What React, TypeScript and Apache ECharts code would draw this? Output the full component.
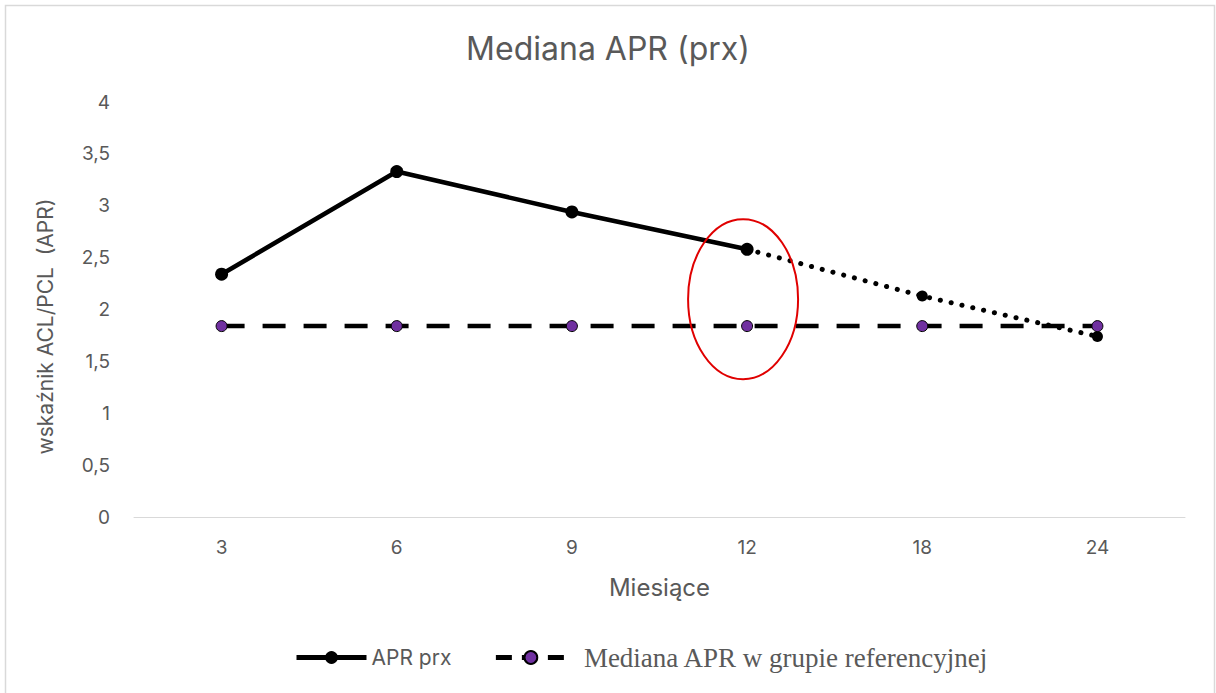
import React, { useEffect, useRef } from "react";
import * as echarts from "echarts";

const months = ["3", "6", "9", "12", "18", "24"];
const aprPrx = [2.34, 3.33, 2.94, 2.58, 2.13, 1.74];
const splitIndex = 3; // last measured point (12 months), afterwards dotted
const referenceMedian = [1.84, 1.84, 1.84, 1.84, 1.84, 1.84];
const yTicks = { min: 0, max: 4, interval: 0.5 };
const highlight = { category: "12", value: 2.1 };

const GRAY = "#595959";
const SANS = "Inter";

export default function App() {
  const ref = useRef<HTMLDivElement>(null);
  useEffect(() => {
    if (!ref.current) return;
    const chart = echarts.init(ref.current, null, { renderer: "svg" });
    const solid = aprPrx.map((v, i) => (i <= splitIndex ? v : null));
    const dotted = aprPrx.map((v, i) => (i >= splitIndex ? v : null));
    const legendData = [
      {
        name: "APR prx",
        textStyle: { color: GRAY, fontSize: 21, fontFamily: SANS },
        lineStyle: { width: 5, color: "#000000" },
      },
      {
        name: "Mediana APR w grupie referencyjnej",
        textStyle: { color: GRAY, fontSize: 27, fontFamily: "Liberation Serif", padding: [0, 0, 0, 13] },
        lineStyle: { width: 5, color: "#000000", type: [16, 10] },
      },
    ];
    chart.setOption({
      animation: false,
      backgroundColor: "#ffffff",
      title: {
        text: "Mediana APR (prx)",
        left: "center",
        top: 27,
        textStyle: { color: GRAY, fontSize: 32, fontWeight: "normal", fontFamily: SANS },
      },
      grid: { left: 134, right: 31, top: 102, bottom: 176, containLabel: false },
      xAxis: {
        type: "category",
        data: months,
        boundaryGap: true,
        name: "Miesiące",
        nameLocation: "middle",
        nameGap: 58,
        nameTextStyle: { color: GRAY, fontSize: 24, fontFamily: SANS },
        axisLine: { lineStyle: { color: "#d9d9d9", width: 1 } },
        axisTick: { show: false },
        axisLabel: { color: GRAY, fontSize: 19, margin: 21, fontFamily: SANS },
      },
      yAxis: {
        type: "value",
        min: yTicks.min,
        max: yTicks.max,
        interval: yTicks.interval,
        name: "wskaźnik ACL/PCL  (APR)",
        nameLocation: "middle",
        nameRotate: 90,
        nameGap: 78,
        nameTextStyle: { color: GRAY, fontSize: 21, fontFamily: SANS, padding: [0, 34, 0, 0] },
        axisLine: { show: false },
        axisTick: { show: false },
        splitLine: { show: false },
        axisLabel: {
          color: GRAY,
          fontSize: 19,
          margin: 24,
          fontFamily: SANS,
          formatter: (v: number) => String(v).replace(".", ","),
        },
      },
      legend: {
        bottom: 17,
        left: 289,
        itemWidth: 70,
        itemHeight: 16,
        itemGap: 42,
        data: legendData,
      },
      series: [
        {
          name: "APR prx (prognoza)",
          type: "line",
          data: dotted,
          symbol: "circle",
          symbolSize: 11,
          itemStyle: { color: "#000000" },
          lineStyle: { color: "#000000", width: 5, type: [0.1, 11], cap: "round" },
          z: 3,
        },
        {
          name: "Mediana APR w grupie referencyjnej",
          type: "line",
          data: referenceMedian,
          symbol: "circle",
          symbolSize: 11,
          itemStyle: { color: "#7030A0", borderColor: "#000000", borderWidth: 1 },
          lineStyle: { color: "#000000", width: 4.5, type: [23, 18] },
          z: 4,
        },
        {
          name: "APR prx",
          type: "line",
          data: solid,
          symbol: "circle",
          symbolSize: 13,
          itemStyle: { color: "#000000" },
          lineStyle: { color: "#000000", width: 4.5 },
          z: 5,
        },
      ],
    });
    const center = chart.convertToPixel({ gridIndex: 0 }, [highlight.category, highlight.value]) as number[];
    chart.setOption({
      graphic: [
        {
          type: "rect",
          shape: { x: 5.5, y: 5.5, width: 1209, height: 720 },
          style: { fill: "none", stroke: "#d9d9d9", lineWidth: 1.5 },
          silent: true,
          z: 0,
        },
        {
          type: "ellipse",
          shape: { cx: center[0] - 4, cy: center[1], rx: 55, ry: 80 },
          style: { fill: "none", stroke: "#e00000", lineWidth: 2 },
          silent: true,
          z: 10,
        },
      ],
    });
    return () => chart.dispose();
  }, []);
  return (
    <div
      ref={ref}
      style={{ position: "fixed", left: 0, top: 0, width: 1216, height: 693 }}
    />
  );
}
